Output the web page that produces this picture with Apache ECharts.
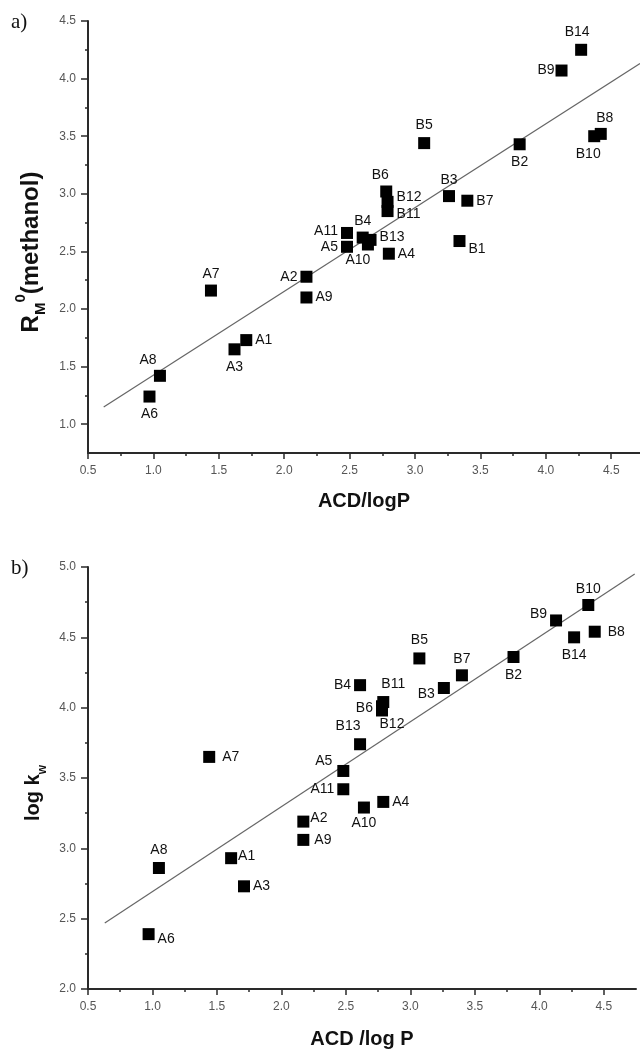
<!DOCTYPE html>
<html>
<head>
<meta charset="utf-8">
<script src="https://cdn.jsdelivr.net/npm/echarts@6/dist/echarts.min.js"></script>
<style>
  html, body { margin: 0; padding: 0; background: #fff; }
  #chart { width: 640px; height: 1055px; }
</style>
</head>
<body>
<div id="chart"></div>
<script>
// ---- panel a: RM0 (methanol) vs ACD/logP ----
const namesA = ['A1','A2','A3','A4','A5','A6','A7','A8','A9','A10','A11',
                'B1','B2','B3','B4','B5','B6','B7','B8','B9','B10','B11','B12','B13','B14'];
const logPA  = [1.71, 2.17, 1.62, 2.80, 2.48, 0.97, 1.44, 1.05, 2.17, 2.64, 2.48,
                3.34, 3.80, 3.26, 2.60, 3.07, 2.78, 3.40, 4.42, 4.12, 4.37, 2.79, 2.79, 2.66, 4.27];
const rm0    = [1.73, 2.28, 1.65, 2.48, 2.54, 1.24, 2.16, 1.42, 2.10, 2.56, 2.66,
                2.59, 3.43, 2.98, 2.62, 3.44, 3.02, 2.94, 3.52, 4.07, 3.50, 2.85, 2.93, 2.60, 4.25];
const fitXA  = [0.62, 4.72];
const fitYA  = [1.15, 4.13];

// ---- panel b: log kw vs ACD/log P ----
const namesB = ['A1','A2','A3','A4','A5','A6','A7','A8','A9','A10','A11',
                'B2','B3','B4','B5','B6','B7','B8','B9','B10','B11','B12','B13','B14'];
const logPB  = [1.61, 2.17, 1.71, 2.79, 2.48, 0.97, 1.44, 1.05, 2.17, 2.64, 2.48,
                3.80, 3.26, 2.61, 3.07, 2.78, 3.40, 4.43, 4.13, 4.38, 2.79, 2.78, 2.61, 4.27];
const logKw  = [2.93, 3.19, 2.73, 3.33, 3.55, 2.39, 3.65, 2.86, 3.06, 3.29, 3.42,
                4.36, 4.14, 4.16, 4.35, 4.01, 4.23, 4.54, 4.62, 4.73, 4.04, 3.98, 3.74, 4.50];
const fitXB  = [0.63, 4.74];
const fitYB  = [2.47, 4.95];

// ---- tick values ----
const xTicks      = [0.5, 1.0, 1.5, 2.0, 2.5, 3.0, 3.5, 4.0, 4.5];
const xMinorTicks = [0.75, 1.25, 1.75, 2.25, 2.75, 3.25, 3.75, 4.25];
const yTicksA     = [1.0, 1.5, 2.0, 2.5, 3.0, 3.5, 4.0, 4.5];
const yMinorA     = [1.25, 1.75, 2.25, 2.75, 3.25, 3.75, 4.25];
const yTicksB     = [2.0, 2.5, 3.0, 3.5, 4.0, 4.5, 5.0];
const yMinorB     = [2.25, 2.75, 3.25, 3.75, 4.25, 4.75];

// label placement per compound: [position, dx, dy]
const placeA = {
  A1:['right'], A2:['left'], A3:['bottom',0,2], A4:['right'], A5:['left'], A6:['bottom',0,2],
  A7:['top'], A8:['top',-12,0], A9:['right'], A10:['bottom',-10,0], A11:['left',0,-2],
  B1:['right',0,8], B2:['bottom',0,2], B3:['top'], B4:['top'], B5:['top',0,-2], B6:['top',-6,0],
  B7:['right'], B8:['top',4,0], B9:['left',2,0], B10:['bottom',-6,2], B11:['right',0,3],
  B12:['right',0,-5], B13:['right',0,-3], B14:['top',-4,-2]
};
const placeB = {
  A1:['right',-2,-2], A2:['right',-2,-3], A3:['right'], A4:['right'], A5:['left',-2,-10],
  A6:['right',0,5], A7:['right',4,0], A8:['top',0,-2], A9:['right',2,0], A10:['bottom',0,0],
  A11:['left'], B2:['bottom',0,2], B3:['left',0,6], B4:['left'], B5:['top',0,-2],
  B6:['left',0,2], B7:['top'], B8:['right',4,0], B9:['left',0,-6], B10:['top'],
  B11:['top',10,-2], B12:['bottom',10,-2], B13:['top',-12,-2], B14:['bottom',0,2]
};

const FONT = '"Liberation Sans", Arial, sans-serif';
const AXIS_COLOR = '#2a2a2a';

function points(names, xs, ys, place) {
  return names.map((n, i) => {
    const p = place[n] || ['right'];
    return {
      name: n,
      value: [xs[i], ys[i]],
      label: { position: p[0], offset: [p[1] || 0, p[2] || 0] }
    };
  });
}

function fitLine(xs, ys) {
  return xs.map((x, i) => [x, ys[i]]);
}

function mainX(grid, max, name, gap) {
  return {
    type: 'value', gridIndex: grid, position: 'bottom', min: 0.5, max: max,
    axisLine: { lineStyle: { color: AXIS_COLOR, width: 2 } },
    axisTick: { customValues: xTicks, length: 6, lineStyle: { color: AXIS_COLOR, width: 1.5 } },
    axisLabel: { customValues: xTicks, formatter: v => v.toFixed(1),
                 fontFamily: FONT, fontSize: 12, color: '#555', margin: 12 },
    splitLine: { show: false },
    name: name, nameLocation: 'middle', nameGap: gap,
    nameTextStyle: { fontFamily: FONT, fontSize: 20, fontWeight: 'bold', color: '#111' }
  };
}
function minorX(grid, max) {
  return {
    type: 'value', gridIndex: grid, position: 'bottom', min: 0.5, max: max,
    axisLine: { show: false },
    axisTick: { customValues: xMinorTicks, length: 3, lineStyle: { color: AXIS_COLOR, width: 1.5 } },
    axisLabel: { show: false }, splitLine: { show: false }
  };
}
function mainY(grid, min, max, ticks, name, rich, gap, pad) {
  return {
    type: 'value', gridIndex: grid, position: 'left', min: min, max: max,
    axisLine: { lineStyle: { color: AXIS_COLOR, width: 2 } },
    axisTick: { customValues: ticks, length: 7, lineStyle: { color: AXIS_COLOR, width: 1.5 } },
    axisLabel: { customValues: ticks, formatter: v => v.toFixed(1),
                 fontFamily: FONT, fontSize: 12, color: '#555', margin: 12 },
    splitLine: { show: false },
    name: name, nameLocation: 'middle', nameGap: gap,
    nameTextStyle: { rich: rich, padding: pad }
  };
}
function minorY(grid, min, max, ticks) {
  return {
    type: 'value', gridIndex: grid, position: 'left', min: min, max: max,
    axisLine: { show: false },
    axisTick: { customValues: ticks, length: 3, lineStyle: { color: AXIS_COLOR, width: 1.5 } },
    axisLabel: { show: false }, splitLine: { show: false }
  };
}

function titleRich(size) {
  return {
    b:   { fontFamily: FONT, fontSize: size, fontWeight: 'bold', color: '#111', lineHeight: Math.round(size * 1.45) },
    sub: { fontFamily: FONT, fontSize: Math.round(size * 0.62), fontWeight: 'bold', color: '#111',
           lineHeight: Math.round(size * 0.62), verticalAlign: 'bottom' },
    sup: { fontFamily: FONT, fontSize: Math.round(size * 0.62), fontWeight: 'bold', color: '#111',
           lineHeight: Math.round(size * 0.62), verticalAlign: 'top' }
  };
}

const pointLabel = { show: true, formatter: '{b}', fontFamily: FONT, fontSize: 14, color: '#111', distance: 3 };

const option = {
  backgroundColor: '#fff',
  animation: false,
  grid: [
    { left: 88, top: 21, width: 552, height: 432 },
    { left: 88, top: 567, width: 548, height: 422 }
  ],
  xAxis: [
    mainX(0, 4.72, 'ACD/logP', 38),
    minorX(0, 4.72),
    mainX(1, 4.75, 'ACD /log P', 40),
    minorX(1, 4.75)
  ],
  yAxis: [
    mainY(0, 0.75, 4.5, yTicksA, '{b|R}{sub|M}{sup|0}{b|(methanol)}', titleRich(24), 35, [0, 30, 0, 0]),
    minorY(0, 0.75, 4.5, yMinorA),
    mainY(1, 2.0, 5.0, yTicksB, '{b|log k}{sub|w}', titleRich(20), 38, [0, 30, 0, 0]),
    minorY(1, 2.0, 5.0, yMinorB)
  ],
  graphic: [
    { type: 'text', left: 11, top: 12,
      style: { text: 'a)', font: '21px "Liberation Serif", "Times New Roman", serif', fill: '#111' } },
    { type: 'text', left: 11, top: 558,
      style: { text: 'b)', font: '21px "Liberation Serif", "Times New Roman", serif', fill: '#111' } }
  ],
  series: [
    { type: 'line', xAxisIndex: 0, yAxisIndex: 0, data: fitLine(fitXA, fitYA),
      symbol: 'none', lineStyle: { color: '#666', width: 1.2 }, silent: true, z: 1 },
    { type: 'scatter', xAxisIndex: 0, yAxisIndex: 0, data: points(namesA, logPA, rm0, placeA),
      symbol: 'rect', symbolSize: 12, itemStyle: { color: '#000', opacity: 1 }, label: pointLabel, z: 2 },
    { type: 'line', xAxisIndex: 2, yAxisIndex: 2, data: fitLine(fitXB, fitYB),
      symbol: 'none', lineStyle: { color: '#666', width: 1.2 }, silent: true, z: 1 },
    { type: 'scatter', xAxisIndex: 2, yAxisIndex: 2, data: points(namesB, logPB, logKw, placeB),
      symbol: 'rect', symbolSize: 12, itemStyle: { color: '#000', opacity: 1 }, label: pointLabel, z: 2 }
  ]
};

const chart = echarts.init(document.getElementById('chart'), null, { renderer: 'canvas' });
chart.setOption(option);
</script>
</body>
</html>
